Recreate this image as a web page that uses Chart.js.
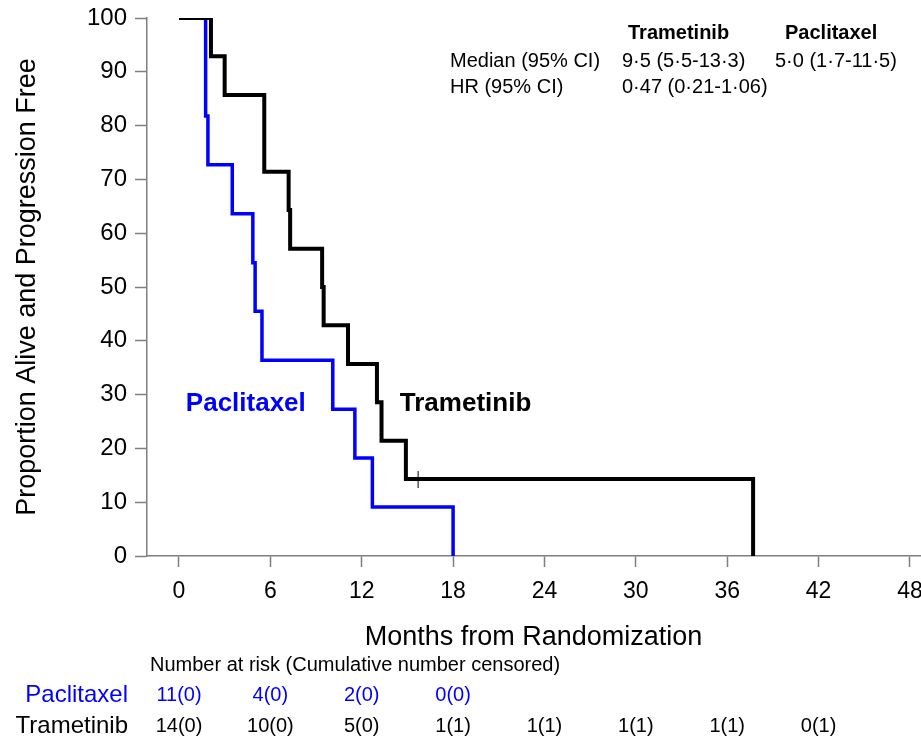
<!DOCTYPE html>
<html lang="en">
<head>
  <meta charset="UTF-8">
  <title>Trametinib vs Paclitaxel - PFS</title>
  <script src="https://cdn.jsdelivr.net/npm/chart.js"></script>
  <style>
    body { margin: 0; background: #fff; }
    #wrap { width: 921px; height: 743px; }
  </style>
</head>
<body>
  <div id="wrap"><canvas id="myChart" width="921" height="743"></canvas></div>
  <script>
    // KM steps (months, % progression free)
    const trametinibMonths = [0, 2.1, 3.0, 5.6, 7.2, 7.3, 9.4, 9.5, 11.1, 13.0, 13.3, 14.9, 37.7];
    const trametinibSurv = [100, 92.9, 85.7, 71.4, 64.3, 57.1, 50.0, 42.9, 35.7, 28.6, 21.4, 14.3, 0];
    const paclitaxelMonths = [0, 1.75, 1.9, 3.5, 4.85, 5.0, 5.45, 10.1, 11.55, 12.7, 18.0];
    const paclitaxelSurv = [100, 81.8, 72.7, 63.6, 54.5, 45.5, 36.4, 27.3, 18.2, 9.1, 0];
    const censorMonths = [15.7];
    const censorSurv = [14.3];

    const xTicks = [0, 6, 12, 18, 24, 30, 36, 42, 48];
    const yTicks = [0, 10, 20, 30, 40, 50, 60, 70, 80, 90, 100];

    // number at risk (cumulative censored)
    const riskTimes = [0, 6, 12, 18, 24, 30, 36, 42];
    const paclitaxelRisk = ['11(0)', '4(0)', '2(0)', '0(0)'];
    const trametinibRisk = ['14(0)', '10(0)', '5(0)', '1(1)', '1(1)', '1(1)', '1(1)', '0(1)'];

    const FONT = "'Liberation Sans', Arial, sans-serif";
    const BLUE = '#0000ff';
    const AXIS = '#7f7f7f';

    const toPts = (xs, ys) => xs.map((v, i) => ({ x: v, y: ys[i] }));

    // censor tick as a tiny image, so the point radius stays small (no extra layout padding)
    const censorMark = document.createElement('canvas');
    censorMark.width = 3;
    censorMark.height = 17;
    const cm = censorMark.getContext('2d');
    cm.fillStyle = '#000';
    cm.fillRect(1, 0, 1, 17);

    const textPlugin = {
      id: 'kmText',
      afterDraw(chart) {
        const ctx = chart.ctx;
        const sx = chart.scales.x;
        const sy = chart.scales.y;
        ctx.save();
        ctx.textBaseline = 'middle';

        // curve labels
        ctx.textAlign = 'left';
        ctx.font = 'bold 26px ' + FONT;
        ctx.fillStyle = BLUE;
        ctx.fillText('Paclitaxel', sx.getPixelForValue(0.45), sy.getPixelForValue(28.3));
        ctx.fillStyle = '#000';
        ctx.fillText('Trametinib', sx.getPixelForValue(14.5), sy.getPixelForValue(28.3));

        // stats box
        ctx.font = 'bold 20px ' + FONT;
        ctx.fillText('Trametinib', 628, 33);
        ctx.fillText('Paclitaxel', 785, 33);
        ctx.font = '20px ' + FONT;
        ctx.fillText('Median (95% CI)', 450, 61);
        ctx.fillText('9\u00b75 (5\u00b75-13\u00b73)', 622, 61);
        ctx.fillText('5\u00b70 (1\u00b77-11\u00b75)', 775, 61);
        ctx.fillText('HR (95% CI)', 450, 87);
        ctx.fillText('0\u00b747 (0\u00b721-1\u00b706)', 622, 87);

        // number at risk table
        ctx.font = '20px ' + FONT;
        ctx.fillText('Number at risk (Cumulative number censored)', 150, 665);
        ctx.textAlign = 'right';
        ctx.font = '24px ' + FONT;
        ctx.fillStyle = BLUE;
        ctx.fillText('Paclitaxel', 128, 695);
        ctx.fillStyle = '#000';
        ctx.fillText('Trametinib', 128, 726);

        ctx.textAlign = 'center';
        ctx.font = '20px ' + FONT;
        ctx.fillStyle = BLUE;
        paclitaxelRisk.forEach((t, i) => ctx.fillText(t, sx.getPixelForValue(riskTimes[i]), 695));
        ctx.fillStyle = '#000';
        trametinibRisk.forEach((t, i) => ctx.fillText(t, sx.getPixelForValue(riskTimes[i]), 726));
        ctx.restore();
      }
    };

    new Chart(document.getElementById('myChart'), {
      type: 'line',
      data: {
        datasets: [{
          label: 'Trametinib',
          data: toPts(trametinibMonths, trametinibSurv),
          borderColor: '#000',
          borderWidth: 4,
          stepped: 'before',
          pointRadius: 0,
          pointHoverRadius: 0,
          fill: false
        }, {
          label: 'censored',
          data: toPts(censorMonths, censorSurv),
          showLine: false,
          pointStyle: censorMark,
          pointRadius: 1,
          pointHoverRadius: 0,
          borderWidth: 0
        }, {
          label: 'Paclitaxel',
          data: toPts(paclitaxelMonths, paclitaxelSurv),
          borderColor: BLUE,
          borderWidth: 3.5,
          stepped: 'before',
          pointRadius: 0,
          pointHoverRadius: 0,
          fill: false
        }]
      },
      options: {
        responsive: false,
        animation: false,
        events: [],
        layout: { padding: { top: 18, right: 0, bottom: 87, left: 0 } },
        plugins: { legend: { display: false }, tooltip: { enabled: false } },
        scales: {
          x: {
            type: 'linear',
            min: -2.1,
            max: 48.66,
            afterBuildTicks: s => { s.ticks = xTicks.map(v => ({ value: v })); },
            afterFit: s => { s.height = 100; s.paddingLeft = 0; s.paddingRight = 0; },
            grid: { drawOnChartArea: false, tickLength: 11, tickColor: AXIS, tickWidth: 1.5 },
            border: { color: AXIS, width: 1.5 },
            ticks: { color: '#000', font: { family: FONT, size: 23 }, padding: 11, maxRotation: 0, autoSkip: false },
            title: { display: true, text: 'Months from Randomization', color: '#000', font: { family: FONT, size: 27 }, padding: { top: 0, bottom: 2 } }
          },
          y: {
            min: 0,
            max: 100,
            afterBuildTicks: s => { s.ticks = yTicks.map(v => ({ value: v })); },
            afterFit: s => { s.width = 147; s.paddingTop = 0; s.paddingBottom = 0; },
            grid: { drawOnChartArea: false, tickLength: 12, tickColor: AXIS, tickWidth: 1.5 },
            border: { color: AXIS, width: 1.5 },
            ticks: { color: '#000', font: { family: FONT, size: 24 }, padding: 8 },
            title: { display: true, text: 'Proportion Alive and Progression Free', color: '#000', font: { family: FONT, size: 27 }, padding: { top: 11, bottom: 0 } }
          }
        }
      },
      plugins: [textPlugin]
    });
  </script>
</body>
</html>
